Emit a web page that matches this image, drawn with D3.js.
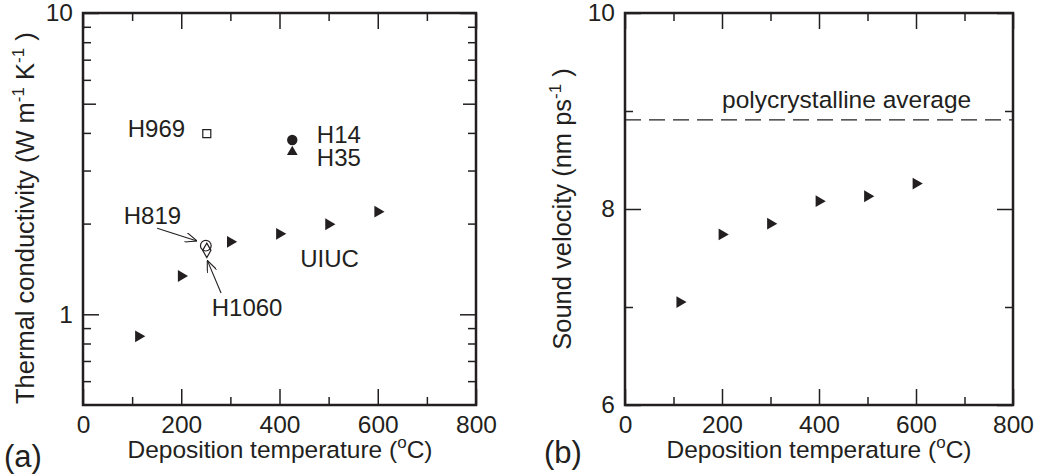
<!DOCTYPE html>
<html lang="en">
<head>
<meta charset="UTF-8">
<title>Thermal conductivity and sound velocity vs deposition temperature</title>
<script src="https://cdn.jsdelivr.net/npm/d3@7/dist/d3.min.js"></script>
<style>
    body { margin: 0; background: #fff; }
    text { font-family: "Liberation Sans", Arial, Helvetica, sans-serif; fill: #231f20; }
</style>
</head>
<body>
<div id="container"></div>
<script>
// Step 1: data
let uiucTemp = [113, 200, 300, 400, 500, 600];
let uiucK = [0.845, 1.34, 1.74, 1.85, 1.99, 2.19];
let uiucV = [7.05, 7.74, 7.85, 8.08, 8.13, 8.26];

let sampleNames = ["H969", "H14", "H35", "H819", "H1060"];
let sampleTemp = [252, 426, 426, 250, 252];
let sampleK = [3.98, 3.79, 3.46, 1.69, 1.63];

let polyAvg = 8.91;

// labels and tick values
let labelText = ["H969", "H14", "H35", "H819", "UIUC", "H1060"];
let labelTemp = [91, 476, 476, 83, 442, 262];
let labelK = [3.87, 3.70, 3.11, 1.99, 1.436, 0.987];

let xTicks = [0, 200, 400, 600, 800];
let xMinor = [100, 300, 500, 700];
let kTicks = [1, 10];
let kMid = [5];
let kMinor = [0.6, 0.7, 0.8, 0.9, 2, 3, 4, 6, 7, 8, 9];
let vTicks = [6, 8, 10];
let vMinor = [7, 9];

// Step 2: svg
let W = 1038, H = 474;
let svg = d3.select('#container')
    .append('svg')
    .attr('width', W)
    .attr('height', H)
    .style('background-color', '#fff');

let yTop = 13, yBot = 405;
let ink = '#231f20';
let fs = 24.5;

// Step 3: scales
let xa = d3.scaleLinear().domain([0, 800]).range([83, 476]);
let ya = d3.scaleLog().domain([0.5, 10]).range([yBot, yTop]);
let xb = d3.scaleLinear().domain([0, 800]).range([625, 1013]);
let yb = d3.scaleLinear().domain([6, 10]).range([yBot, yTop]);

// draws ticks on all 4 sides (pointing inwards) + frame
function frame(x, y, major, mid, minor, fmt) {
    let x0 = x.range()[0], x1 = x.range()[1];
    let g = svg.append('g');

    let add = (axis, tr) => {
        let a = g.append('g').attr('transform', tr).call(axis);
        a.select('.domain').remove();
        a.selectAll('.tick line').attr('stroke', ink).attr('stroke-width', 1.5);
        a.selectAll('.tick text').style('font-size', fs + 'px').attr('fill', ink);
        a.selectAll('.tick text').filter(function () { return !this.textContent; }).remove();
        return a;
    };

    // x
    add(d3.axisBottom(x).tickValues(xTicks).tickSize(-16).tickPadding(11).tickFormat(d3.format('d')), `translate(0,${yBot})`);
    add(d3.axisBottom(x).tickValues(xMinor).tickSize(-8).tickFormat(''), `translate(0,${yBot})`);
    add(d3.axisTop(x).tickValues(xTicks).tickSize(-16).tickFormat(''), `translate(0,${yTop})`);
    add(d3.axisTop(x).tickValues(xMinor).tickSize(-8).tickFormat(''), `translate(0,${yTop})`);

    // y
    add(d3.axisLeft(y).tickValues(major).tickSize(-16).tickPadding(10).tickFormat(fmt), `translate(${x0},0)`);
    add(d3.axisLeft(y).tickValues(mid).tickSize(-13).tickFormat(''), `translate(${x0},0)`);
    add(d3.axisLeft(y).tickValues(minor).tickSize(-8).tickFormat(''), `translate(${x0},0)`);
    add(d3.axisRight(y).tickValues(major).tickSize(-16).tickFormat(''), `translate(${x1},0)`);
    add(d3.axisRight(y).tickValues(mid).tickSize(-13).tickFormat(''), `translate(${x1},0)`);
    add(d3.axisRight(y).tickValues(minor).tickSize(-8).tickFormat(''), `translate(${x1},0)`);

    g.append('rect')
        .attr('x', x0).attr('y', yTop)
        .attr('width', x1 - x0).attr('height', yBot - yTop)
        .attr('fill', 'none')
        .attr('stroke', ink)
        .attr('stroke-width', 2.5);
}

frame(xa, ya, kTicks, kMid, kMinor, d3.format('d'));
frame(xb, yb, vTicks, [], vMinor, d3.format('d'));

// axis titles with superscripts
function title(tx, ty, rot, anchor, size, parts) {
    let t = svg.append('text')
        .attr('transform', `translate(${tx},${ty}) rotate(${rot})`)
        .attr('text-anchor', anchor)
        .style('font-size', size + 'px');
    let back = 0;
    parts.forEach(p => {
        if (p.sup) {
            t.append('tspan').attr('dy', -10).style('font-size', '17px').text(p.sup);
            back = 10;
        } else {
            t.append('tspan').attr('dy', back).text(p.t);
            back = 0;
        }
    });
}

title(280, 458, 0, 'middle', fs, [{t: 'Deposition temperature ('}, {sup: 'o'}, {t: 'C)'}]);
title(819, 458, 0, 'middle', fs, [{t: 'Deposition temperature ('}, {sup: 'o'}, {t: 'C)'}]);
title(34, 404, -90, 'start', 25.5, [{t: 'Thermal conductivity (W m'}, {sup: '-1'}, {t: ' K'}, {sup: '-1'}, {t: ' )'}]);
title(571, 209, -90, 'middle', 25.5, [{t: 'Sound velocity (nm ps'}, {sup: '-1'}, {t: ' )'}]);

svg.append('text').attr('x', 4).attr('y', 467).style('font-size', '31px').text('(a)');
svg.append('text').attr('x', 544).attr('y', 463).style('font-size', '31px').text('(b)');

// Step 4: markers
let triRight = d3.symbol().type(d3.symbolTriangle).size(60);

svg.selectAll('.uiucA')
    .data(uiucTemp)
    .enter().append('path')
    .attr('d', triRight)
    .attr('transform', (d, i) => `translate(${xa(d)},${ya(uiucK[i])}) rotate(90)`)
    .attr('fill', ink);

svg.selectAll('.uiucB')
    .data(uiucTemp)
    .enter().append('path')
    .attr('d', triRight)
    .attr('transform', (d, i) => `translate(${xb(d)},${yb(uiucV[i])}) rotate(90)`)
    .attr('fill', ink);

// marker style for each named sample
let sampleStyle = {
    H969: {type: d3.symbolSquare, size: 64, fill: 'none'},
    H14: {type: d3.symbolCircle, size: 85, fill: ink},
    H35: {type: d3.symbolTriangle, size: 50, fill: ink},
    H819: {type: d3.symbolCircle, size: 90, fill: 'none'},
    H1060: {type: d3.symbolDiamond, size: 60, fill: 'none'}
};

svg.selectAll('.sample')
    .data(sampleNames)
    .enter().append('path')
    .attr('d', d => d3.symbol().type(sampleStyle[d].type).size(sampleStyle[d].size)())
    .attr('transform', (d, i) => `translate(${xa(sampleTemp[i])},${ya(sampleK[i])})`)
    .attr('fill', d => sampleStyle[d].fill)
    .attr('stroke', ink)
    .attr('stroke-width', d => sampleStyle[d].fill == 'none' ? 1.2 : 0);

// Step 5: labels and arrows
svg.selectAll('.lbl')
    .data(labelText)
    .enter().append('text')
    .attr('x', (d, i) => xa(labelTemp[i]))
    .attr('y', (d, i) => ya(labelK[i]))
    .style('font-size', '24px')
    .text(d => d);

svg.append('defs').append('marker')
    .attr('id', 'arr')
    .attr('viewBox', '0 0 12 10')
    .attr('refX', 12).attr('refY', 5)
    .attr('markerWidth', 12).attr('markerHeight', 10)
    .attr('markerUnits', 'userSpaceOnUse')
    .attr('orient', 'auto')
    .append('path')
    .attr('d', 'M0,0 L12,5 L0,10')
    .attr('fill', 'none')
    .attr('stroke', ink)
    .attr('stroke-width', 1.1);

let arrows = [
    {from: [151, 1.93], to: [232, 1.752]},
    {from: [281, 1.177], to: [253, 1.51]}
];
arrows.forEach(a => {
    svg.append('line')
        .attr('x1', xa(a.from[0])).attr('y1', ya(a.from[1]))
        .attr('x2', xa(a.to[0])).attr('y2', ya(a.to[1]))
        .attr('stroke', ink)
        .attr('stroke-width', 1.1)
        .attr('marker-end', 'url(#arr)');
});

// dashed polycrystalline average
svg.append('line')
    .attr('x1', xb(0)).attr('x2', xb(800))
    .attr('y1', yb(polyAvg)).attr('y2', yb(polyAvg))
    .attr('stroke', ink)
    .attr('stroke-width', 1.3)
    .attr('stroke-dasharray', '16,8');

svg.append('text')
    .attr('x', xb(200))
    .attr('y', yb(polyAvg) - 12)
    .style('font-size', fs + 'px')
    .text('polycrystalline average');
</script>
</body>
</html>
